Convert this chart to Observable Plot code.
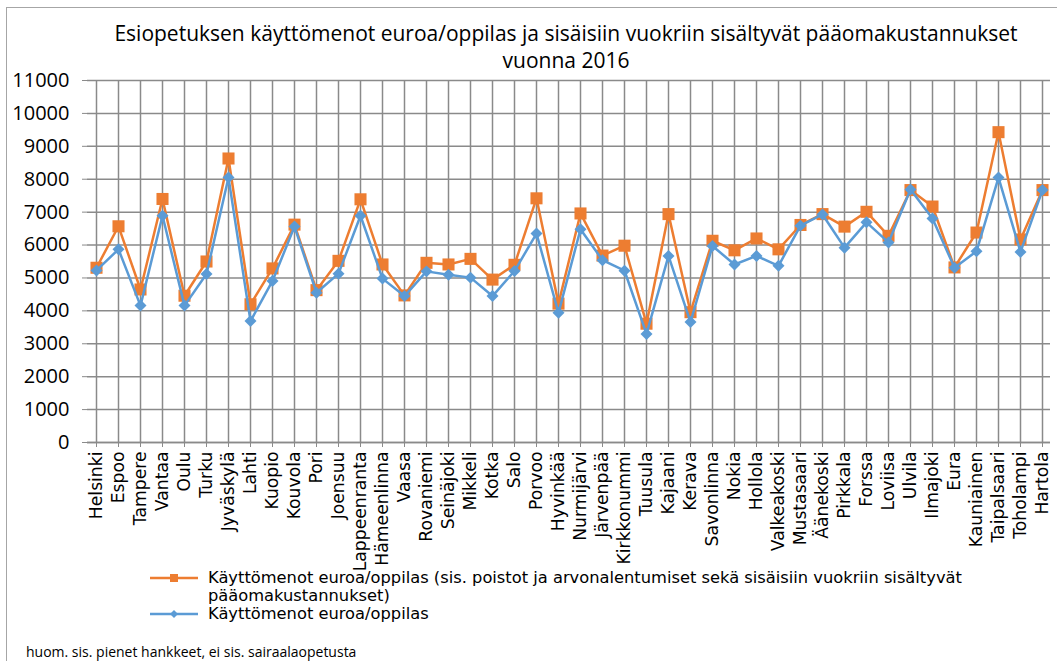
<!DOCTYPE html>
<html><head><meta charset="utf-8">
<script src="https://cdn.jsdelivr.net/npm/d3@7"></script>
<script src="https://cdn.jsdelivr.net/npm/@observablehq/plot@0.6"></script>
<style>
body{margin:0;background:#fff;width:1057px;height:661px;overflow:hidden;position:relative;font-family:"Open Sans",sans-serif;color:#000}
#frame{position:absolute;left:6px;top:7px;width:1060px;height:680px;border:1px solid #a6a6a6;}
#title{position:absolute;left:0;width:1132px;top:20px;text-align:center;font-size:21px;line-height:27px;}
#chart{position:absolute;left:0;top:70px;}
.leg{position:absolute;font-family:"DejaVu Sans",sans-serif;font-size:16.3px;line-height:18px;}
.sw{position:absolute;}
#note{position:absolute;left:26px;top:642px;font-size:14px;}
</style></head>
<body>
<div id="frame"></div>
<div id="title">Esiopetuksen käyttömenot euroa/oppilas ja sisäisiin vuokriin sisältyvät pääomakustannukset<br>vuonna 2016</div>
<div id="chart"></div>
<svg class="sw" style="left:150px;top:570px" width="48" height="16"><line x1="0" x2="48" y1="8" y2="8" stroke="#ED7D31" stroke-width="2.5"/><rect x="20" y="4" width="8" height="8" fill="#ED7D31"/></svg>
<div class="leg" style="left:208px;top:569px;width:780px">Käyttömenot euroa/oppilas (sis. poistot ja arvonalentumiset sekä sisäisiin vuokriin sisältyvät pääomakustannukset)</div>
<svg class="sw" style="left:150px;top:606px" width="48" height="16"><line x1="0" x2="48" y1="8" y2="8" stroke="#5B9BD5" stroke-width="2.5"/><path d="M24 4 L28 8 L24 12 L20 8 Z" fill="#5B9BD5"/></svg>
<div class="leg" style="left:208px;top:605px">Käyttömenot euroa/oppilas</div>
<div id="note">huom. sis. pienet hankkeet, ei sis. sairaalaopetusta</div>
<script>
const cities = ["Helsinki","Espoo","Tampere","Vantaa","Oulu","Turku","Jyväskylä","Lahti","Kuopio","Kouvola","Pori","Joensuu","Lappeenranta","Hämeenlinna","Vaasa","Rovaniemi","Seinäjoki","Mikkeli","Kotka","Salo","Porvoo","Hyvinkää","Nurmijärvi","Järvenpää","Kirkkonummi","Tuusula","Kajaani","Kerava","Savonlinna","Nokia","Hollola","Valkeakoski","Mustasaari","Äänekoski","Pirkkala","Forssa","Loviisa","Ulvila","Ilmajoki","Eura","Kauniainen","Taipalsaari","Toholampi","Hartola"];
const withCapital = [5310,6570,4650,7400,4460,5500,8630,4200,5290,6620,4630,5520,7390,5410,4470,5460,5410,5580,4950,5400,7420,4220,6960,5680,5980,3610,6940,3960,6130,5840,6200,5870,6610,6940,6560,7010,6280,7670,7170,5320,6380,9430,6170,7670];
const operating = [5230,5870,4160,6890,4160,5120,8050,3690,4910,6560,4550,5130,6890,4980,4450,5200,5100,5010,4450,5210,6350,3940,6480,5540,5220,3300,5670,3660,5970,5410,5670,5370,6590,6930,5920,6690,6080,7690,6810,5310,5810,8050,5790,7670];
const yTicks = [0,1000,2000,3000,4000,5000,6000,7000,8000,9000,10000,11000];

const rowsO = cities.map((c,i)=>({city:c, v:withCapital[i]}));
const rowsB = cities.map((c,i)=>({city:c, v:operating[i]}));
const grid = "#8a8a8a";

const chart = Plot.plot({
  width: 1057, height: 500,
  marginLeft: 87, marginRight: 7, marginTop: 10, marginBottom: 128,
  x: {type: "point", domain: cities, padding: 0},
  y: {domain: [0, 11000]},
  style: {background: "transparent", overflow: "visible"},
  marks: [
    Plot.gridY(yTicks, {stroke: grid, strokeOpacity: 1, strokeWidth: 1.5}),
    Plot.gridX(cities, {stroke: grid, strokeOpacity: 1, strokeWidth: 1.5}),
    Plot.ruleY([0], {stroke: grid, strokeWidth: 1.5}),
    Plot.axisY(yTicks, {tickSize: 5, tickPadding: 13, fontSize: 20, fontFamily: "Open Sans", tickFormat: d => String(d), stroke: grid, fill: "#000", label: null}),
    Plot.axisX(cities, {tickRotate: -90, tickSize: 5, tickPadding: 4, fontSize: 17.2, fontFamily: "DejaVu Sans", stroke: grid, fill: "#000", label: null}),
    Plot.line(rowsO, {x: "city", y: "v", stroke: "#ED7D31", strokeWidth: 2.5}),
    Plot.dot(rowsO, {x: "city", y: "v", symbol: "square", r: 6.8, fill: "#ED7D31", stroke: "none"}),
    Plot.line(rowsB, {x: "city", y: "v", stroke: "#5B9BD5", strokeWidth: 2.5}),
    Plot.dot(rowsB, {x: "city", y: "v", symbol: "diamond2", r: 5.4, fill: "#5B9BD5", stroke: "none"})
  ]
});
document.getElementById("chart").appendChild(chart);
</script>
</body></html>
